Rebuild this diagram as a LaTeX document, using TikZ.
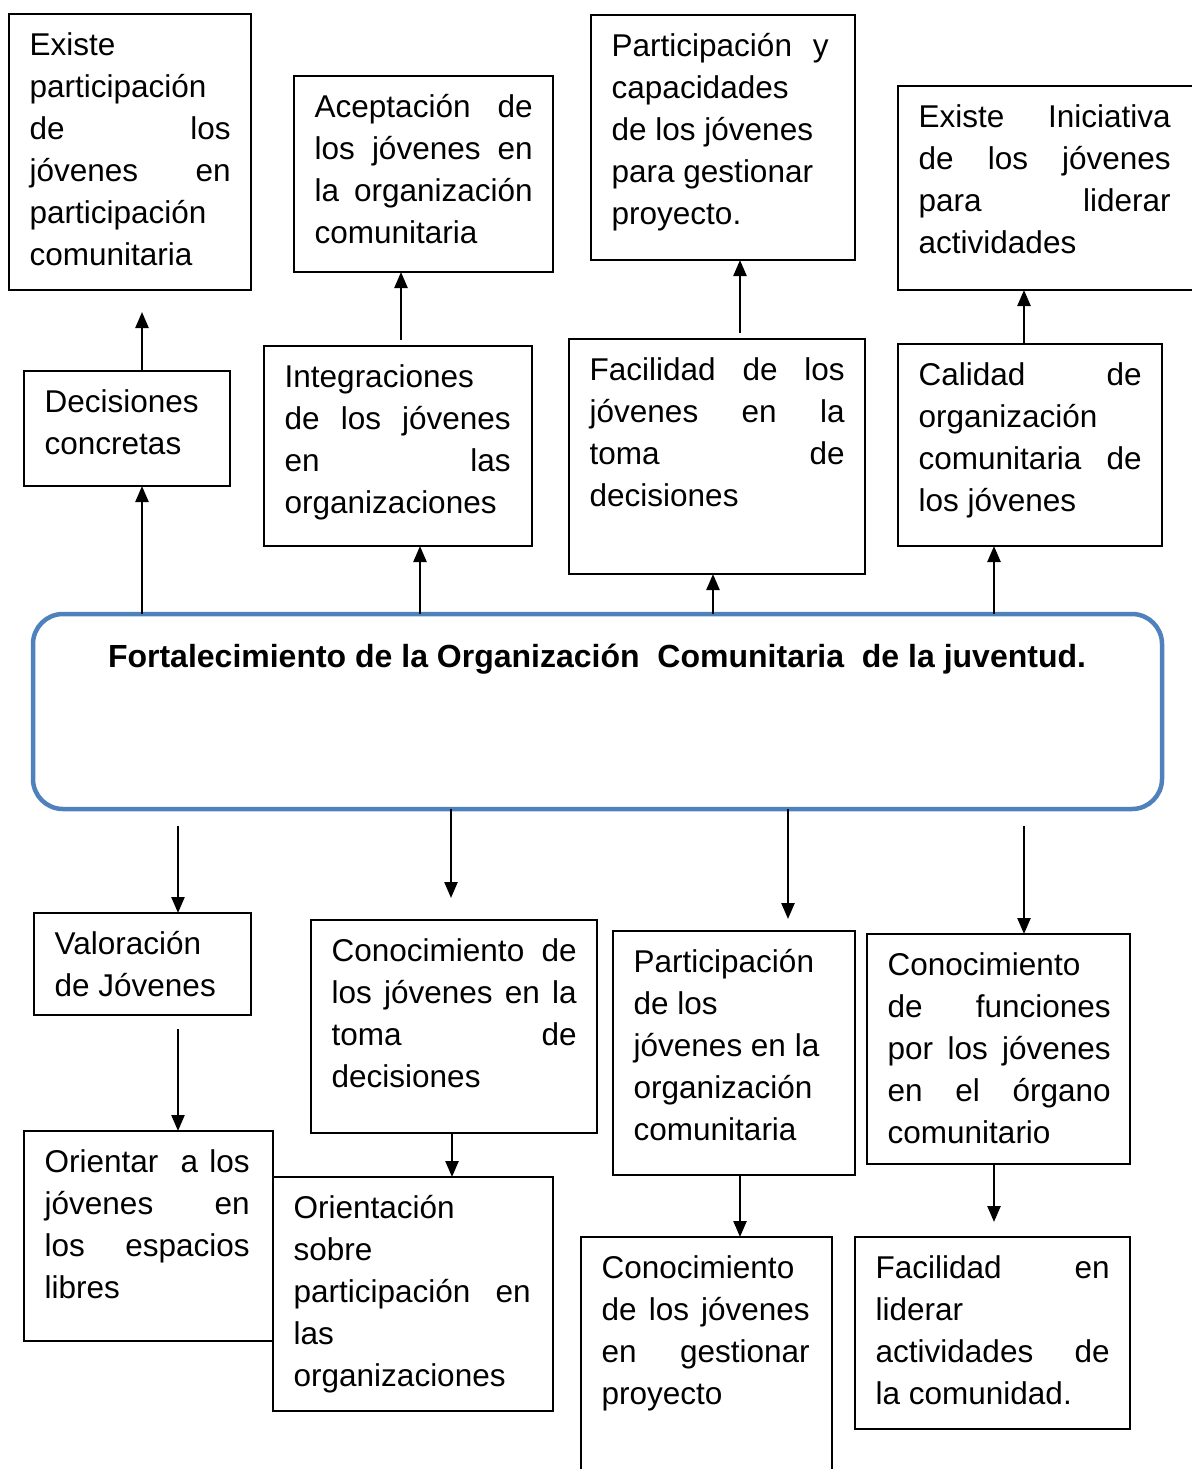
\documentclass[tikz,border=0pt]{standalone}
\usepackage{fontspec}
\setmainfont{Liberation Sans}
\usetikzlibrary{arrows.meta,calc}
\setlength{\parindent}{0pt}
\hyphenpenalty=10000
\definecolor{azulcaja}{RGB}{79,129,189}
\tikzset{
  caja/.style={draw, line width=1.6pt, inner sep=0pt, outer sep=0pt, anchor=north west},
  texto/.style={anchor=north west, inner xsep=20.5pt, inner ysep=11.6pt, align=justify,
    font=\fontsize{31.5}{42}\selectfont},
  flecha/.style={line width=2.4pt, -{Triangle[length=16pt,width=13pt]}}
}
\begin{document}
\begin{tikzpicture}[x=1pt, y=-1pt]
\useasboundingbox (0,0) rectangle (1191,1469);
% fila de arriba
\node[caja, minimum width=242, minimum height=276] (exist) at (9,14) {};
\node[texto, text width=201pt] (texist) at (exist.north west) {\strut Existe\newline participación\newline de~los\linebreak jóvenes~en\linebreak participación\newline comunitaria};
\node[caja, minimum width=259, minimum height=196] (acept) at (294,76) {};
\node[texto, text width=218pt] (tacept) at (acept.north west) {\strut Aceptación~de\linebreak los~jóvenes~en\linebreak la~organización\linebreak comunitaria};
\node[caja, minimum width=264, minimum height=245] (partcap) at (591,15) {};
\node[texto, text width=217pt] (tpartcap) at (partcap.north west) {\strut Participación~y\linebreak capacidades\newline de~los~jóvenes\newline para~gestionar\newline proyecto.};
\node[caja, minimum width=310, minimum height=204] (inic) at (898,86) {};
\node[texto, text width=252pt] (tinic) at (inic.north west) {\strut Existe~Iniciativa\linebreak de~los~jóvenes\linebreak para~liderar\linebreak actividades};
% segunda fila
\node[caja, minimum width=206, minimum height=115] (decis) at (24,371) {};
\node[texto, text width=165pt] (tdecis) at (decis.north west) {\strut Decisiones\newline concretas};
\node[caja, minimum width=268, minimum height=200] (integ) at (264,346) {};
\node[texto, text width=226pt] (tinteg) at (integ.north west) {\strut Integraciones\newline de~los~jóvenes\linebreak en~las\linebreak organizaciones};
\node[caja, minimum width=296, minimum height=235] (facil) at (569,339) {};
\node[texto, text width=255pt] (tfacil) at (facil.north west) {\strut Facilidad~de~los\linebreak jóvenes~en~la\linebreak toma~de\linebreak decisiones};
\node[caja, minimum width=264, minimum height=202] (calid) at (898,344) {};
\node[texto, text width=223pt] (tcalid) at (calid.north west) {\strut Calidad~de\linebreak organización\newline comunitaria~de\linebreak los~jóvenes};
% caja central
\node[draw=azulcaja, line width=4.5pt, rounded corners=30pt, minimum width=1129, minimum height=195, inner sep=0pt, outer sep=0pt, anchor=north west] (centro) at (33,614) {};
\node[font=\bfseries\fontsize{32}{42}\selectfont, anchor=base] (titulo) at (597,667) {Fortalecimiento de la Organización\ \ Comunitaria\ \ de la juventud.};
% fila de abajo
\node[caja, minimum width=217, minimum height=102] (valor) at (34,913) {};
\node[texto, text width=180pt] (tvalor) at (valor.north west) {\strut Valoración\newline de Jóvenes};
\node[caja, minimum width=286, minimum height=213] (conoc) at (311,920) {};
\node[texto, text width=245pt] (tconoc) at (conoc.north west) {\strut Conocimiento~de\linebreak los~jóvenes~en~la\linebreak toma~de\linebreak decisiones};
\node[caja, minimum width=242, minimum height=244] (partorg) at (613,931) {};
\node[texto, text width=201pt] (tpartorg) at (partorg.north west) {\strut Participación\newline de~los\newline jóvenes~en~la\newline organización\newline comunitaria};
\node[caja, minimum width=263, minimum height=230] (confun) at (867,934) {};
\node[texto, text width=223pt] (tconfun) at (confun.north west) {\strut Conocimiento\newline de~funciones\linebreak por~los~jóvenes\linebreak en~el~órgano\linebreak comunitario};
\node[caja, minimum width=249, minimum height=210] (orien) at (24,1131) {};
\node[texto, text width=205pt] (torien) at (orien.north west) {\strut Orientar~~a~los\linebreak jóvenes~en\linebreak los~espacios\linebreak libres};
\node[caja, minimum width=280, minimum height=234] (orsob) at (273,1177) {};
\node[texto, text width=237pt] (torsob) at (orsob.north west) {\strut Orientación\newline sobre\newline participación~en\linebreak las\newline organizaciones};
\node[caja, minimum width=251, minimum height=280] (congest) at (581,1237) {};
\node[texto, text width=208pt] (tcongest) at (congest.north west) {\strut Conocimiento\newline de~los~jóvenes\linebreak en~gestionar\linebreak proyecto};
\node[caja, minimum width=275, minimum height=192] (facliq) at (855,1237) {};
\node[texto, text width=234pt] (tfacliq) at (facliq.north west) {\strut Facilidad~en\linebreak liderar\newline actividades~de\linebreak la~comunidad.};
% flechas hacia arriba
\draw[flecha] ($(centro.north)+(-455.5,0)$) -- ($(decis.south)+(15,0)$);
\draw[flecha] ($(decis.north)+(15,0)$) -- ($(exist.south)+(12,22)$);
\draw[flecha] ($(centro.north)+(-177.5,0)$) -- ($(integ.south)+(22,0)$);
\draw[flecha] ($(integ.north)+(3,-6)$) -- ($(acept.south)+(-22.5,0)$);
\draw[flecha] ($(centro.north)+(115.5,0)$) -- ($(facil.south)+(-4,0)$);
\draw[flecha] ($(facil.north)+(23,-6)$) -- ($(partcap.south)+(17,0)$);
\draw[flecha] ($(centro.north)+(396.5,0)$) -- ($(calid.south)+(-36,0)$);
\draw[flecha] ($(calid.north)+(-6,0)$) -- ($(inic.south)+(-29,0)$);
% flechas hacia abajo
\draw[flecha] ($(centro.south)+(-419.5,17)$) -- ($(valor.north)+(35.5,0)$);
\draw[flecha] ($(centro.south)+(-146.5,0)$) -- ($(conoc.north)+(-3,-22)$);
\draw[flecha] ($(centro.south)+(190.5,0)$) -- ($(partorg.north)+(54,-12)$);
\draw[flecha] ($(centro.south)+(426.5,17)$) -- ($(confun.north)+(25.5,0)$);
\draw[flecha] ($(valor.south)+(35.5,14)$) -- ($(orien.north)+(29.5,0)$);
\draw[flecha] ($(conoc.south)+(-2,0)$) -- ($(orsob.north)+(39,0)$);
\draw[flecha] ($(partorg.south)+(6,0)$) -- ($(congest.north)+(33.5,0)$);
\draw[flecha] ($(confun.south)+(-4.5,0)$) -- ($(facliq.north)+(1.5,-15)$);
\end{tikzpicture}
\end{document}
